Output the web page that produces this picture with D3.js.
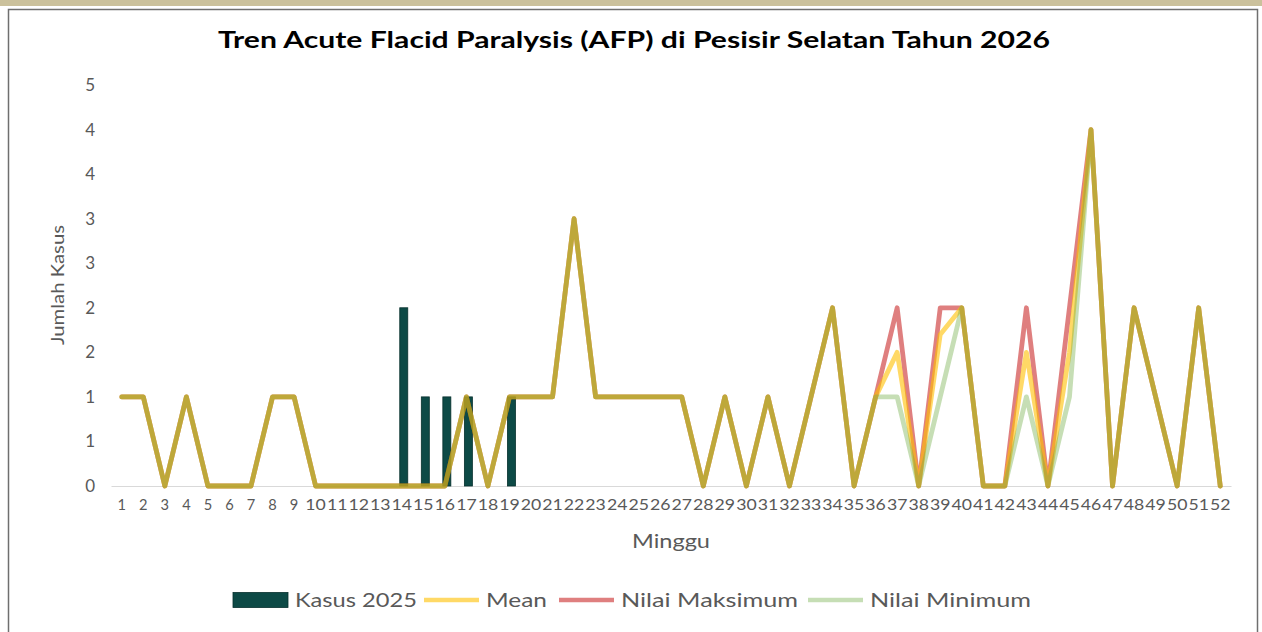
<!DOCTYPE html>
<html>
<head>
<meta charset="utf-8">
<script src="https://cdn.jsdelivr.net/npm/d3@7"></script>
<style>
  body { margin: 0; background: #fff; }
  svg text { font-family: Lato, "Open Sans", sans-serif; }
</style>
</head>
<body>
<div id="chart"></div>
<script>
// weeks (category labels)
var weeks = ["1","2","3","4","5","6","7","8","9","10","11","12","13","14","15","16","17","18","19","20",
             "21","22","23","24","25","26","27","28","29","30","31","32","33","34","35","36","37","38","39","40",
             "41","42","43","44","45","46","47","48","49","50","51","52"];

var kasus2025 = [0,0,0,0,0,0,0,0,0,0, 0,0,0,2,1,1,1,0,1,0, 0,0,0,0,0,0,0,0,0,0,
                 0,0,0,0,0,0,0,0,0,0, 0,0,0,0,0,0,0,0,0,0, 0,0];

var meanVals = [1,1,0,1,0,0,0,1,1,0, 0,0,0,0,0,0,1,0,1,1, 1,3,1,1,1,1,1,0,1,0,
                1,0,1,2,0,1,1.5,0,1.7,2, 0,0,1.5,0,1.5,4,0,2,1,0, 2,0];
var maxVals  = [1,1,0,1,0,0,0,1,1,0, 0,0,0,0,0,0,1,0,1,1, 1,3,1,1,1,1,1,0,1,0,
                1,0,1,2,0,1,2,0,2,2, 0,0,2,0,2,4,0,2,1,0, 2,0];
var minVals  = [1,1,0,1,0,0,0,1,1,0, 0,0,0,0,0,0,1,0,1,1, 1,3,1,1,1,1,1,0,1,0,
                1,0,1,2,0,1,1,0,1,2, 0,0,1,0,1,4,0,2,1,0, 2,0];

var yTicks = [0,0.5,1,1.5,2,2.5,3,3.5,4,4.5];
var yTickLabels = ["0","1","1","2","2","3","3","4","4","5"];

var width = 1262, height = 632;

var svg = d3.select("#chart").append("svg")
    .attr("width", width)
    .attr("height", height);

// frame
svg.append("rect").attr("x", 0).attr("y", 0).attr("width", width).attr("height", 6)
    .attr("fill", "#cbc19c");
svg.append("rect").attr("x", 8.5).attr("y", 9.5).attr("width", 1249).attr("height", 640)
    .attr("fill", "#fff").attr("stroke", "#6f6f6f").attr("stroke-width", 1.5);

var x = d3.scaleBand().domain(weeks).range([111, 1231]);
var y = d3.scaleLinear().domain([0, 4.5]).range([486, 85]);
var cx = function(w) { return x(w) + x.bandwidth() / 2; };

// stretch a text to a given width (the source chart is wider than normal glyphs)
function stretch(sel, w) {
    sel.attr("textLength", w).attr("lengthAdjust", "spacingAndGlyphs");
}

// title
svg.append("text")
    .attr("x", 634).attr("y", 48)
    .attr("text-anchor", "middle")
    .style("font-size", "23px").style("font-weight", "bold").style("fill", "#000")
    .text("Tren Acute Flacid Paralysis (AFP) di Pesisir Selatan Tahun 2026")
    .call(stretch, 832);

// y axis
var yAxis = svg.append("g")
    .attr("transform", "translate(95,0)")
    .call(d3.axisLeft(y).tickValues(yTicks).tickSize(0).tickPadding(0)
        .tickFormat(function(d, i) { return yTickLabels[i]; }));
yAxis.select(".domain").remove();
yAxis.selectAll("text").style("font-size", "17px").style("fill", "#595959")
    .style("font-family", "Lato, sans-serif");

// x axis
var xAxis = svg.append("g")
    .attr("transform", "translate(0,486)")
    .call(d3.axisBottom(x).tickSize(0).tickPadding(13));
xAxis.select(".domain").attr("stroke", "#d9d9d9").attr("stroke-width", 1.2);
xAxis.selectAll("text").style("font-size", "15px").style("fill", "#595959")
    .style("font-family", "Lato, sans-serif")
    .each(function(d) {
        d3.select(this).call(stretch, d.length > 1 ? 20.5 : 8.5);
    });

// axis titles
svg.append("text")
    .attr("transform", "translate(64,285) rotate(-90)")
    .attr("text-anchor", "middle")
    .style("font-size", "18px").style("fill", "#595959")
    .text("Jumlah Kasus")
    .call(stretch, 120);
svg.append("text")
    .attr("x", 671).attr("y", 548)
    .attr("text-anchor", "middle")
    .style("font-size", "19px").style("fill", "#595959")
    .text("Minggu")
    .call(stretch, 78);

// bars (Kasus 2025)
var barW = 8;
svg.append("g").selectAll("rect")
    .data(weeks.filter(function(w, i) { return kasus2025[i] > 0; }))
    .enter().append("rect")
    .attr("x", function(w) { return cx(w) - barW / 2 + 2; })
    .attr("y", function(w) { return y(kasus2025[weeks.indexOf(w)]); })
    .attr("width", barW)
    .attr("height", function(w) { return y(0) - y(kasus2025[weeks.indexOf(w)]); })
    .attr("fill", "#0d4a46")
    .attr("stroke", "#07302d")
    .attr("stroke-width", 0.8);

// lines
var series = [
    { name: "Nilai Maksimum", values: maxVals,  color: "#C00000", op: 0.5 },
    { name: "Mean",           values: meanVals, color: "#FFC000", op: 0.6 },
    { name: "Nilai Minimum",  values: minVals,  color: "#70AD47", op: 0.4 }
];

var line = d3.line()
    .x(function(d, i) { return cx(weeks[i]); })
    .y(function(d) { return y(d); });

svg.append("g").selectAll("path")
    .data(series)
    .enter().append("path")
    .attr("d", function(d) { return line(d.values); })
    .attr("fill", "none")
    .attr("stroke", function(d) { return d.color; })
    .attr("stroke-opacity", function(d) { return d.op; })
    .attr("stroke-width", 4.8)
    .attr("stroke-linejoin", "round")
    .attr("stroke-linecap", "round");

// legend
var legendItems = [
    { name: "Kasus 2025",     type: "bar",  color: "#0d4a46", op: 1,   x: 233, w: 122 },
    { name: "Mean",           type: "line", color: "#FFC000", op: 0.6, x: 424, w: 61 },
    { name: "Nilai Maksimum", type: "line", color: "#C00000", op: 0.5, x: 559, w: 177 },
    { name: "Nilai Minimum",  type: "line", color: "#70AD47", op: 0.4, x: 808, w: 161 }
];
var lg = svg.append("g").attr("transform", "translate(0,600)");
legendItems.forEach(function(d) {
    if (d.type == "bar") {
        lg.append("rect").attr("x", d.x).attr("y", -7.5).attr("width", 55).attr("height", 15)
            .attr("fill", d.color).attr("stroke", "#07302d").attr("stroke-width", 0.8);
    } else {
        lg.append("line").attr("x1", d.x).attr("x2", d.x + 55).attr("y1", 0).attr("y2", 0)
            .attr("stroke", d.color).attr("stroke-opacity", d.op).attr("stroke-width", 4.5);
    }
    lg.append("text").attr("x", d.x + 62).attr("y", 7)
        .style("font-size", "20px").style("fill", "#595959").text(d.name)
        .call(stretch, d.w);
});
</script>
</body>
</html>
